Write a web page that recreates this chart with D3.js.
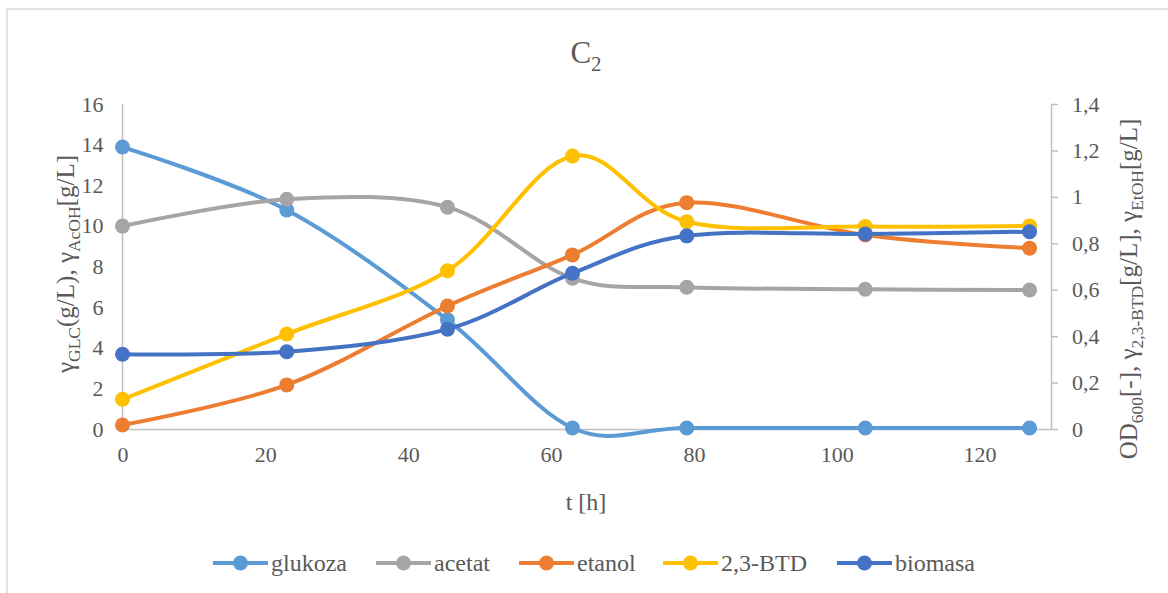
<!DOCTYPE html>
<html>
<head>
<meta charset="utf-8">
<script src="https://cdn.jsdelivr.net/npm/d3@7"></script>
<style>
  html, body { margin: 0; padding: 0; background: #fff; }
  svg { display: block; font-family: "Liberation Serif", "Times New Roman", serif; }
  svg text { font-family: "Liberation Serif", "Times New Roman", serif; }
</style>
</head>
<body>
<svg id="chart" width="1168" height="593"></svg>
<script>
// ---- data ----
const time = [0, 23, 45.5, 63, 79, 104, 127];
const glukoza = [13.88, 10.78, 5.37, 0.05, 0.05, 0.05, 0.05];
const acetat = [9.99, 11.31, 10.92, 7.42, 6.98, 6.88, 6.84];
const etanol = [0.017, 0.19, 0.53, 0.75, 0.975, 0.836, 0.779];
const btd = [0.128, 0.409, 0.682, 1.176, 0.893, 0.872, 0.875];
const biomasa = [0.322, 0.333, 0.43, 0.671, 0.832, 0.84, 0.85];

const xTicks = [0, 20, 40, 60, 80, 100, 120];
const yLeftTicks = [0, 2, 4, 6, 8, 10, 12, 14, 16];
const yRightTicks = [0, 0.2, 0.4, 0.6, 0.8, 1.0, 1.2, 1.4];

const seriesNames = ["glukoza", "acetat", "etanol", "2,3-BTD", "biomasa"];
const seriesValues = [glukoza, acetat, etanol, btd, biomasa];
const seriesAxis = ["left", "left", "right", "right", "right"];
const seriesColors = ["#5B9BD5", "#A5A5A5", "#ED7D31", "#FFC000", "#4472C4"];

// ---- layout ----
const svg = d3.select("#chart");
const plot = { left: 122.5, right: 1051, top: 104, bottom: 429 };
const textColor = "#595959";
const axisColor = "#BFBFBF";

// chart border
svg.append("rect").attr("x", 7).attr("y", 9).attr("width", 1200).attr("height", 620)
  .attr("fill", "none").attr("stroke", "#D9D9D9").attr("stroke-width", 1.5);

const x = d3.scaleLinear().domain([0, 130]).range([plot.left, plot.right]);
const yL = d3.scaleLinear().domain([0, 16]).range([plot.bottom, plot.top]);
const yR = d3.scaleLinear().domain([0, 1.4]).range([plot.bottom, plot.top]);

const fmtComma = d => String(+d.toFixed(1)).replace(".", ",");

// left axis
const gL = svg.append("g").attr("transform", `translate(${plot.left},0)`)
  .call(d3.axisLeft(yL).tickValues(yLeftTicks).tickSize(0).tickPadding(19).tickFormat(d3.format("d")));
// right axis
const gR = svg.append("g").attr("transform", `translate(${plot.right},0)`)
  .call(d3.axisRight(yR).tickValues(yRightTicks).tickSize(7).tickSizeOuter(0).tickPadding(14).tickFormat(fmtComma));
// bottom axis
const gB = svg.append("g").attr("transform", `translate(0,${plot.bottom})`)
  .call(d3.axisBottom(x).tickValues(xTicks).tickSize(0).tickSizeOuter(0).tickPadding(17).tickFormat(d3.format("d")));

[gL, gR, gB].forEach(g => {
  g.attr("font-family", null).attr("font-size", null);
  g.select(".domain").attr("stroke", axisColor).attr("stroke-width", 1.5);
  g.selectAll(".tick line").attr("stroke", axisColor).attr("stroke-width", 1.5);
  g.selectAll(".tick text").attr("fill", textColor).attr("font-size", 22);
});
gL.select(".domain").attr("d", `M0,${plot.bottom}V${plot.top}`);

// title
const title = svg.append("text").attr("x", 586).attr("y", 63).attr("text-anchor", "middle")
  .attr("fill", textColor).attr("font-size", 31);
title.append("tspan").text("C");
title.append("tspan").attr("font-size", 21).attr("dy", 8).text("2");

// x axis title
svg.append("text").attr("x", 586).attr("y", 510).attr("text-anchor", "middle")
  .attr("fill", textColor).attr("font-size", 24).text("t [h]");

// helper for rich text with subscripts
function richText(g, parts, size) {
  const t = g.append("text").attr("text-anchor", "middle").attr("fill", textColor).attr("font-size", size);
  let shifted = false;
  parts.forEach(([s, sub]) => {
    const ts = t.append("tspan").text(s);
    if (sub && !shifted) { ts.attr("font-size", size * 0.7).attr("dy", size * 0.22); shifted = true; }
    else if (!sub && shifted) { ts.attr("dy", -size * 0.22); shifted = false; }
    else if (sub) { ts.attr("font-size", size * 0.7); }
  });
  return t;
}

// left axis title
const gLT = svg.append("g").attr("transform", "translate(74,264) rotate(-90)");
richText(gLT, [["γ"], ["GLC", true], ["(g/L), γ"], ["AcOH", true], ["[g/L]"]], 25);

// right axis title
const gRT = svg.append("g").attr("transform", "translate(1137,289) rotate(-90)");
richText(gRT, [["OD"], ["600", true], ["[-], γ"], ["2,3-BTD", true], ["[g/L], γ"], ["EtOH", true], ["[g/L]"]], 25);

// series
const curve = d3.curveCardinal.tension(0);
seriesValues.forEach((vals, i) => {
  const ys = seriesAxis[i] === "left" ? yL : yR;
  const pts = time.map((t, k) => [t, vals[k]]);
  const line = d3.line().x(d => x(d[0])).y(d => ys(d[1])).curve(curve);
  svg.append("path").datum(pts).attr("d", line)
    .attr("fill", "none").attr("stroke", seriesColors[i]).attr("stroke-width", 4)
    .attr("stroke-linejoin", "round").attr("stroke-linecap", "round");
  svg.append("g").selectAll("circle").data(pts).join("circle")
    .attr("cx", d => x(d[0])).attr("cy", d => ys(d[1])).attr("r", 7.5)
    .attr("fill", seriesColors[i]);
});

// legend
const legendX = [213, 376, 519, 663, 837];
const legendY = 563;
seriesNames.forEach((name, i) => {
  const g = svg.append("g").attr("transform", `translate(${legendX[i]},${legendY})`);
  g.append("line").attr("x1", 0).attr("x2", 55).attr("y1", 0).attr("y2", 0)
    .attr("stroke", seriesColors[i]).attr("stroke-width", 4);
  g.append("circle").attr("cx", 27.5).attr("cy", 0).attr("r", 7.5).attr("fill", seriesColors[i]);
  g.append("text").attr("x", 58).attr("y", 8).attr("fill", textColor).attr("font-size", 24).text(name);
});
</script>
</body>
</html>
